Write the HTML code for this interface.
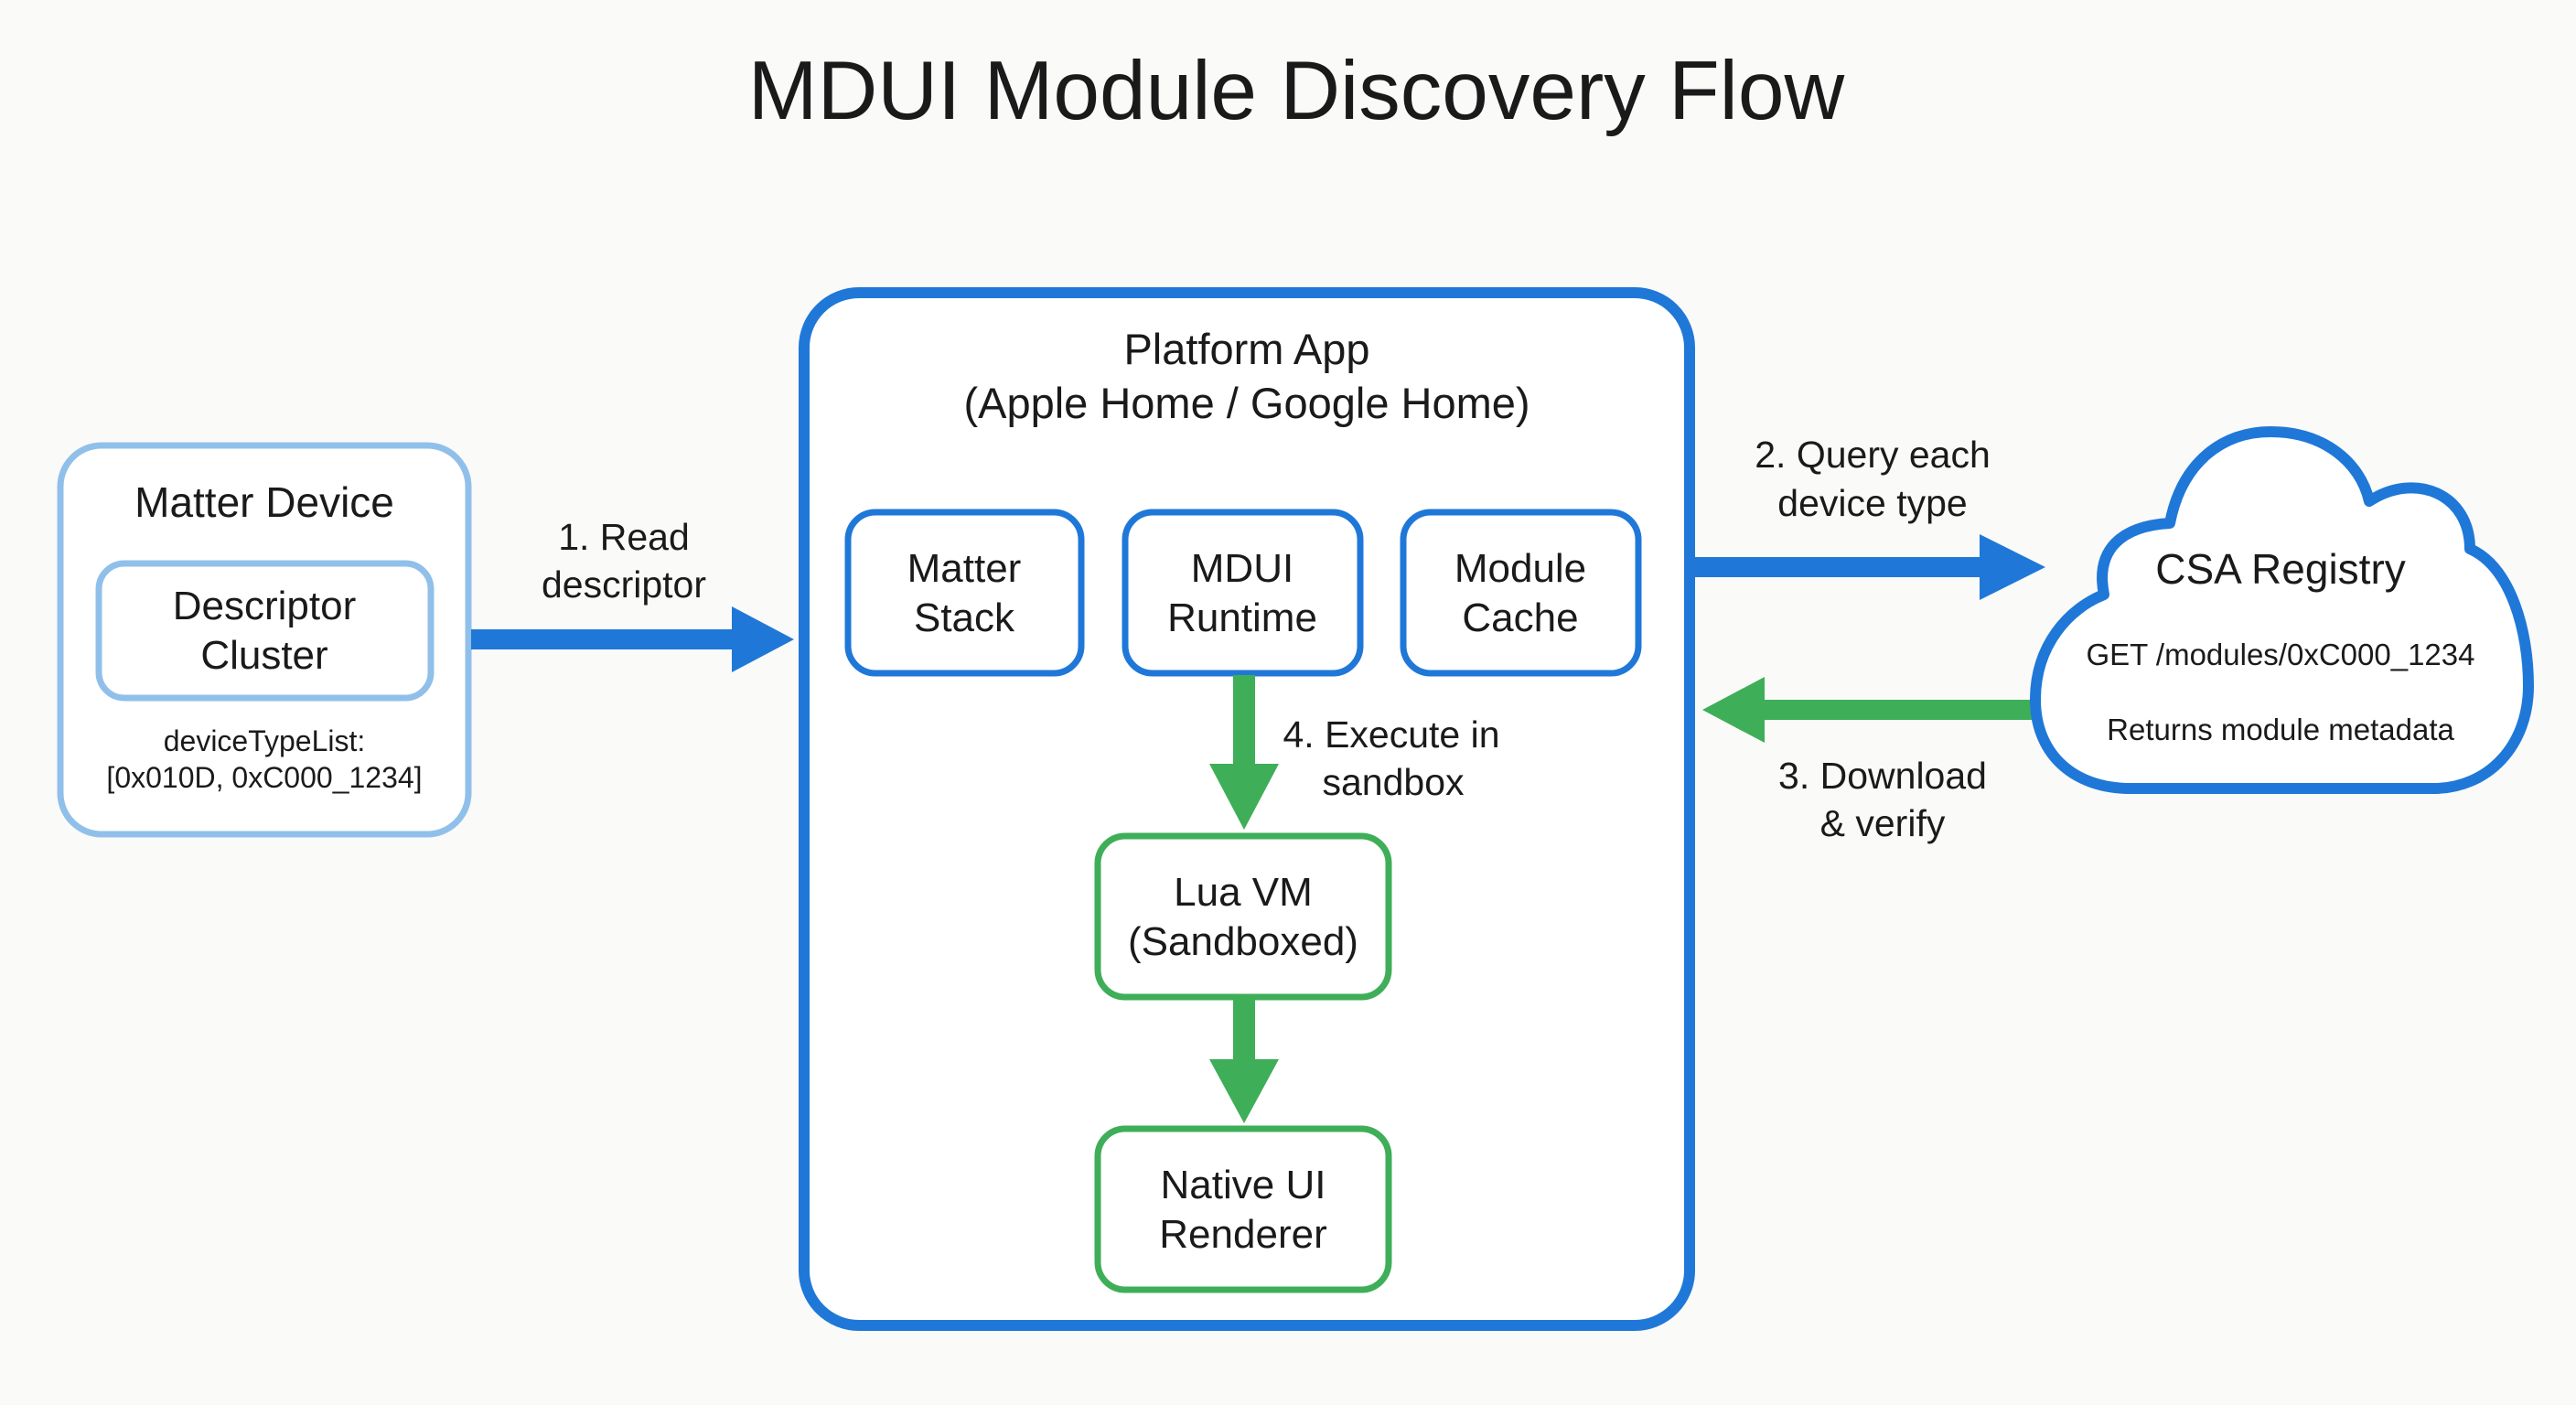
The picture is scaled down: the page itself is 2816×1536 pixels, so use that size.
<!DOCTYPE html>
<html><head><meta charset="utf-8"><style>
html,body{margin:0;padding:0;background:#fafaf9;}
svg{display:block;}
text{font-family:"Liberation Sans",sans-serif;fill:#1a1a1a;text-anchor:middle;}
</style></head><body>
<svg width="2816" height="1536" viewBox="0 0 2816 1536" xmlns="http://www.w3.org/2000/svg">
<rect width="2816" height="1536" fill="#fafaf9"/>
<text x="1417" y="130" font-size="91">MDUI Module Discovery Flow</text>

<!-- Matter Device -->
<rect x="66" y="487" width="446" height="425" rx="45" fill="#fff" stroke="#90c0ea" stroke-width="7"/>
<text x="289" y="565" font-size="46">Matter Device</text>
<rect x="108" y="616" width="363" height="147" rx="28" fill="#fff" stroke="#90c0ea" stroke-width="7"/>
<text x="289" y="677" font-size="44">Descriptor</text>
<text x="289" y="731" font-size="44">Cluster</text>
<text x="289" y="821" font-size="32">deviceTypeList:</text>
<text x="289" y="861" font-size="32">[0x010D, 0xC000_1234]</text>

<!-- Arrow 1 -->
<rect x="515" y="688" width="290" height="22" fill="#1f78d8"/>
<polygon points="800,663 868,699 800,735" fill="#1f78d8"/>
<text x="682" y="601" font-size="41">1. Read</text>
<text x="682" y="653" font-size="41">descriptor</text>

<!-- Platform -->
<rect x="879" y="320" width="968" height="1129" rx="60" fill="#fff" stroke="#1f78d8" stroke-width="12"/>
<text x="1363" y="398" font-size="47">Platform App</text>
<text x="1363" y="457" font-size="47">(Apple Home / Google Home)</text>

<rect x="927" y="560" width="255" height="176" rx="30" fill="#fff" stroke="#1f78d8" stroke-width="7"/>
<text x="1054" y="636" font-size="44">Matter</text>
<text x="1054" y="690" font-size="44">Stack</text>
<rect x="1230" y="560" width="257" height="176" rx="30" fill="#fff" stroke="#1f78d8" stroke-width="7"/>
<text x="1358" y="636" font-size="44">MDUI</text>
<text x="1358" y="690" font-size="44">Runtime</text>
<rect x="1534" y="560" width="257" height="176" rx="30" fill="#fff" stroke="#1f78d8" stroke-width="7"/>
<text x="1662" y="636" font-size="44">Module</text>
<text x="1662" y="690" font-size="44">Cache</text>

<!-- Arrow 4 -->
<rect x="1348" y="738" width="24" height="100" fill="#3fae58"/>
<polygon points="1322,835 1398,835 1360,907" fill="#3fae58"/>
<text x="1521" y="817" font-size="41">4. Execute in</text>
<text x="1523" y="869" font-size="41">sandbox</text>

<rect x="1200" y="914" width="318" height="176" rx="30" fill="#fff" stroke="#3fae58" stroke-width="7"/>
<text x="1359" y="990" font-size="44">Lua VM</text>
<text x="1359" y="1044" font-size="44">(Sandboxed)</text>

<!-- Arrow 5 -->
<rect x="1348" y="1092" width="24" height="70" fill="#3fae58"/>
<polygon points="1322,1158 1398,1158 1360,1228" fill="#3fae58"/>

<rect x="1200" y="1234" width="318" height="176" rx="30" fill="#fff" stroke="#3fae58" stroke-width="7"/>
<text x="1359" y="1310" font-size="44">Native UI</text>
<text x="1359" y="1364" font-size="44">Renderer</text>

<!-- Arrow 2 -->
<rect x="1853" y="609" width="315" height="22" fill="#1f78d8"/>
<polygon points="2164,584 2236,620 2164,656" fill="#1f78d8"/>
<text x="2047" y="511" font-size="41">2. Query each</text>
<text x="2047" y="564" font-size="41">device type</text>

<!-- Arrow 3 -->
<rect x="1925" y="765" width="305" height="22" fill="#3fae58"/>
<polygon points="1929,740 1861,776 1929,812" fill="#3fae58"/>
<text x="2058" y="862" font-size="41">3. Download</text>
<text x="2058" y="914" font-size="41">&amp; verify</text>

<!-- Cloud -->
<path d="M2330 862 C2262 862 2225 820 2225 765 C2225 705 2262 665 2300 650 C2290 600 2320 575 2372 572 C2385 505 2430 472 2482 472 C2540 472 2580 505 2590 548 C2640 515 2700 540 2700 600 C2745 620 2764 690 2764 750 C2764 815 2720 862 2660 862 Z" fill="#fff" stroke="#1f78d8" stroke-width="12" stroke-linejoin="round"/>
<text x="2493" y="638" font-size="46">CSA Registry</text>
<text x="2493" y="727" font-size="33">GET /modules/0xC000_1234</text>
<text x="2493" y="809" font-size="33">Returns module metadata</text>
</svg>
</body></html>
